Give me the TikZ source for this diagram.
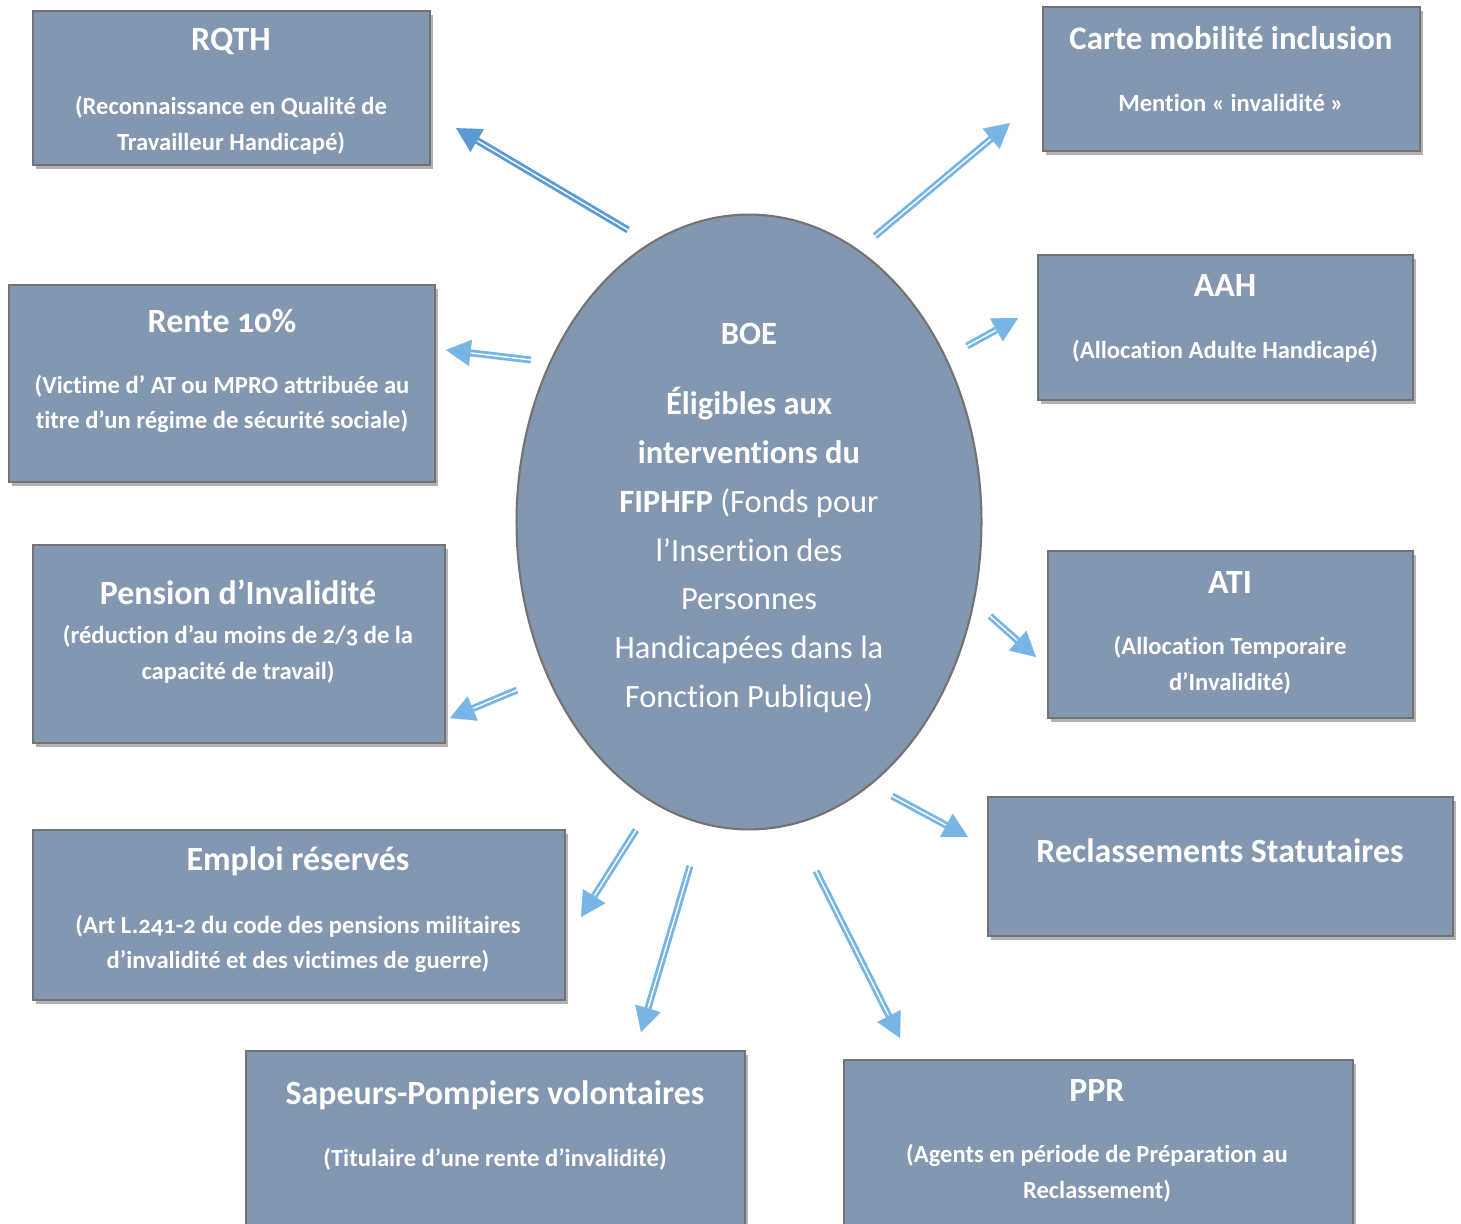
\documentclass[tikz,border=0pt]{standalone}
\usepackage{fontspec}
\setmainfont{Carlito}[Numbers=OldStyle, Ligatures=NoCommon]
\usepackage{tikz}
\usetikzlibrary{arrows.meta,positioning,calc,fit,shapes.geometric,shadows}
\definecolor{boxfill}{HTML}{8497B0}
\definecolor{boxline}{HTML}{737373}
\definecolor{arrdark}{HTML}{5B9BD5}
\definecolor{arrlight}{HTML}{76B5E4}

\begin{document}
\begin{tikzpicture}[x=0.02cm, y=-0.02cm, semithick]
\tikzstyle{box}=[draw=boxline, line width=1.4pt, fill=boxfill, inner sep=0pt, drop shadow={shadow xshift=1.5pt, shadow yshift=-2.5pt, opacity=.3, fill=black}]
\tikzstyle{ttl}=[text=white, font=\fontsize{19.3}{23}\selectfont\bfseries]
\tikzstyle{sub}=[text=white, align=center, font=\fontsize{14}{20.4}\selectfont\bfseries]
\tikzstyle{shaft}=[line width=1.6pt, double=white, double distance=0.8pt]
\tikzstyle{head}=[line width=0.1pt, -{Triangle[length=14pt, width=15pt]}]

\useasboundingbox (0,0) rectangle (1461,1224);
\clip (0,0) rectangle (1461,1224);

% the boxes
\node[box, fit={(33,11) (430,165)}]     (rqth)    {};
\node[box, fit={(1043,7) (1420,151)}]   (carte)   {};
\node[box, fit={(9,285) (435,482)}]     (rente)   {};
\node[box, fit={(1038,255) (1413,400)}] (aah)     {};
\node[box, fit={(33,545) (445,743)}]    (pension) {};
\node[box, fit={(1048,551) (1413,718)}] (ati)     {};
\node[box, fit={(988,797) (1453,936)}]  (reclas)  {};
\node[box, fit={(33,830) (565,1000)}]   (emploi)  {};
\node[box, fit={(246,1051) (745,1260)}] (sapeurs) {};
\node[box, fit={(844,1060) (1353,1260)}](ppr)     {};

% the centre
\node[ellipse, draw=boxline, line width=1.2pt, fill=boxfill, minimum width=9.3cm, minimum height=12.3cm, inner sep=0pt] (boe) at (749,522) {};
\node[text=white, align=center, font=\fontsize{18.5}{27.8}\selectfont] (boe-t) at (749,518)
  {\textbf{BOE}\\[12pt]\textbf{Éligibles aux}\\\textbf{interventions du}\\\textbf{FIPHFP} (Fonds pour\\l’Insertion des\\Personnes\\Handicapées dans la\\Fonction Publique)};

% texts
\node[ttl] (rqth-t) at (231,42) {RQTH};
\node[sub] (rqth-s) at (231,125) {(Reconnaissance en Qualité de\\Travailleur Handicapé)};
\node[ttl, font=\fontsize{18.7}{23}\selectfont\bfseries] (carte-t) at (1231,38) {Carte mobilité inclusion};
\node[sub] (carte-s) at (1231,103) {Mention « invalidité »};
\node[ttl] (rente-t) at (222,321) {Rente 10\%};
\node[sub] (rente-s) at (222,404) {(Victime d’ AT ou MPRO attribuée au\\titre d’un régime de sécurité sociale)};
\node[ttl] (aah-t) at (1225,286) {AAH};
\node[sub] (aah-s) at (1225,351) {(Allocation Adulte Handicapé)};
\node[ttl] (pension-t) at (238,592) {Pension d’Invalidité};
\node[sub] (pension-s) at (238,654) {(réduction d’au moins de 2/3 de la\\capacité de travail)};
\node[ttl] (ati-t) at (1230,582) {ATI};
\node[sub] (ati-s) at (1230,665) {(Allocation Temporaire\\d’Invalidité)};
\node[ttl] (reclas-t) at (1220,851) {Reclassements Statutaires};
\node[ttl] (emploi-t) at (298,861) {Emploi réservés};
\node[sub] (emploi-s) at (298,944) {(Art L.241-2 du code des pensions militaires\\d’invalidité et des victimes de guerre)};
\node[ttl] (sapeurs-t) at (495,1095) {Sapeurs-Pompiers volontaires};
\node[sub] (sapeurs-s) at (495,1159) {(Titulaire d’une rente d’invalidité)};
\node[ttl] (ppr-t) at (1097,1090) {PPR};
\node[sub] (ppr-s) at (1097,1173) {(Agents en période de Préparation au\\Reclassement)};

% arrow ends
\coordinate (rqth-a)    at (628,230);  \coordinate (rqth-b)    at (456,128);
\coordinate (carte-a)   at (875,236);  \coordinate (carte-b)   at (1010,123);
\coordinate (rente-a)   at (531,360);  \coordinate (rente-b)   at (446,350);
\coordinate (aah-a)     at (967,346);  \coordinate (aah-b)     at (1018,318);
\coordinate (pension-a) at (517,690);  \coordinate (pension-b) at (450,718);
\coordinate (ati-a)     at (990,616);  \coordinate (ati-b)     at (1036,657);
\coordinate (reclas-a)  at (892,796);  \coordinate (reclas-b)  at (968,837);
\coordinate (emploi-a)  at (636,830);  \coordinate (emploi-b)  at (581,917);
\coordinate (sapeurs-a) at (690,866);  \coordinate (sapeurs-b) at (641,1032);
\coordinate (ppr-a)     at (816,871);  \coordinate (ppr-b)     at (900,1038);

\foreach \n/\col in {rqth/arrdark, carte/arrlight, rente/arrlight, aah/arrlight, pension/arrlight,
                     ati/arrlight, reclas/arrlight, emploi/arrlight, sapeurs/arrlight, ppr/arrlight}
{
  \draw[shaft, draw=\col, shorten >=11pt] (\n-a) -- (\n-b);
  \draw[head, draw=\col, fill=\col] ($(\n-b)!15pt!(\n-a)$) -- (\n-b);
}
\end{tikzpicture}
\end{document}
